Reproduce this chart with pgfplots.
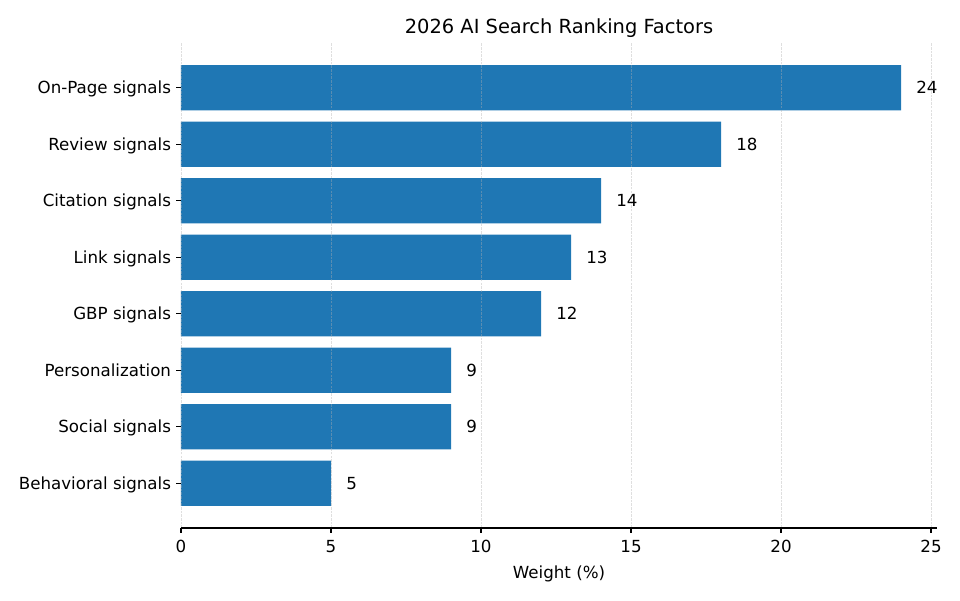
\documentclass[border=0pt]{standalone}
\usepackage{fontspec}
\setmainfont{DejaVu Sans}
\usepackage{pgfplots}
\pgfplotsset{compat=1.18}
\definecolor{barblue}{HTML}{1F77B4}
\definecolor{gridc}{HTML}{B0B0B0}
\begin{document}
\begin{tikzpicture}[x=1pt,y=1pt]
\path[use as bounding box] (0,0) rectangle (691.2,432);
\begin{axis}[
  at={(130.32pt,51.84pt)}, anchor=south west,
  scale only axis, width=544.32pt, height=349.2pt,
  xmin=0, xmax=25.2, ymin=-0.79, ymax=7.79,
  xbar, bar width=0.8,
  axis x line*=bottom, axis y line*=left,
  y axis line style={draw=none},
  x axis line style={line width=0.8pt, black},
  axis on top,
  xtick={0,5,10,15,20,25},
  ytick={0,1,2,3,4,5,6,7},
  yticklabels={Behavioral signals,Social signals,Personalization,GBP signals,Link signals,Citation signals,Review signals,On-Page signals},
  tick align=outside,
  major tick length=3.5pt,
  tick style={line width=0.8pt, black},
  xmajorgrids, ymajorgrids=false,
  major grid style={draw=gridc, opacity=0.4, line width=0.5pt, dash pattern=on 1.85pt off 0.8pt},
  tick label style={font=\fontsize{12}{14}\selectfont, inner sep=0pt},
  xticklabel style={yshift=-5pt},
  yticklabel style={anchor=base east, xshift=-3.5pt, yshift=-4.3pt},
  /pgf/number format/assume math mode=true,
  xlabel={Weight (\%)},
  xlabel style={font=\fontsize{12}{14}\selectfont, inner sep=0pt, yshift=-9pt},
  title={2026 AI Search Ranking Factors},
  title style={font=\fontsize{14}{17}\selectfont, inner sep=0pt, anchor=base, at={(0.5,1)}, yshift=1pt},
  nodes near coords,
  every node near coord/.append style={font=\fontsize{12}{14}\selectfont, anchor=west, inner sep=0pt, xshift=10.8pt, black},
  nodes near coords style={/pgf/number format/assume math mode=true},
]
\addplot[fill=barblue, draw=none] coordinates {
(5,0) (9,1) (9,2) (12,3) (13,4) (14,5) (18,6) (24,7)
};
\end{axis}
\end{tikzpicture}
\end{document}
